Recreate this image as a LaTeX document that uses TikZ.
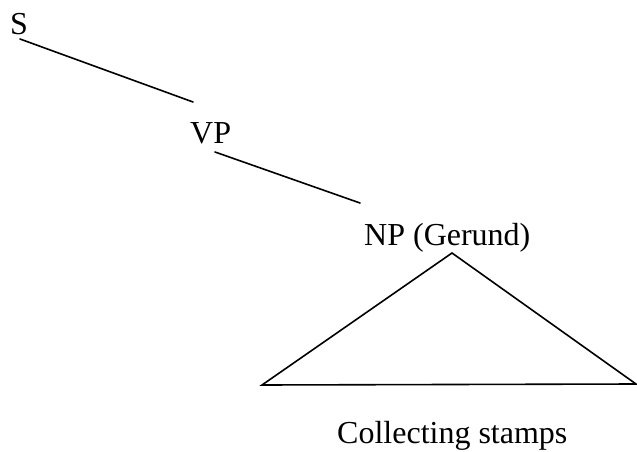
\documentclass[tikz,border=0pt]{standalone}
\usepackage{fontspec}
\setmainfont{Liberation Serif}
\begin{document}
\begin{tikzpicture}[x=1pt,y=-1pt,
  lbl/.style={anchor=base west,inner sep=0pt,font=\fontsize{32}{32}\selectfont},
  branch/.style={line width=1.6pt,line cap=round,line join=miter}]
\useasboundingbox (0,0) rectangle (637,452);
% category labels
\node[lbl] (s) at (10,35) {S};
\node[lbl] (vp) at (190,143) {VP};
\node[lbl] (np) at (364,245) {NP (Gerund)};
\node[lbl] (words) at (337,443) {Collecting stamps};
% branch end points
\coordinate (s-foot) at (20,39);
\coordinate (vp-head) at (193,102);
\coordinate (vp-foot) at (215,152);
\coordinate (np-head) at (360,203);
\coordinate (apex) at (452,253);
\coordinate (left) at (262,385);
\coordinate (right) at (636,384);
% branches
\draw[branch] (s-foot) -- (vp-head);
\draw[branch] (vp-foot) -- (np-head);
% triangle over the gerund phrase
\draw[branch] (apex) -- (left) -- (right) -- cycle;
\end{tikzpicture}
\end{document}
